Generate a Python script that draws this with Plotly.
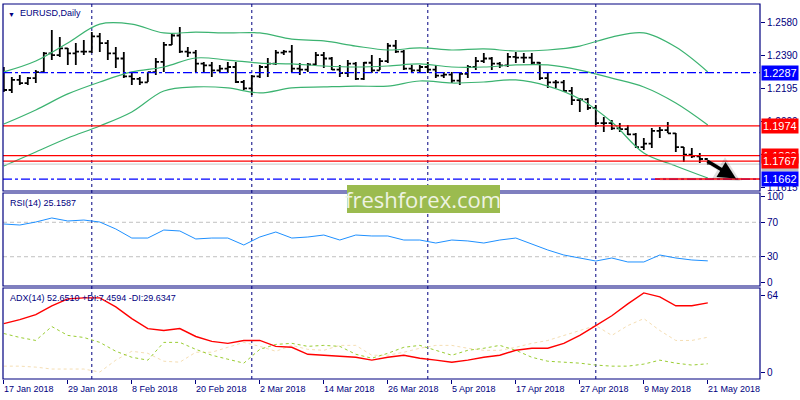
import pandas as pd
import plotly.graph_objects as go

# ---- data ----
dates = pd.bdate_range("2018-01-17", "2018-05-21").strftime("%Y-%m-%d").tolist()

high = [1.2320, 1.2261, 1.2273, 1.2261, 1.2302, 1.2408, 1.2537, 1.2496, 1.2432, 1.2461,
        1.2478, 1.2525, 1.2520, 1.2478, 1.2437, 1.2408, 1.2291, 1.2261, 1.2291, 1.2373,
        1.2467, 1.2520, 1.2555, 1.2437, 1.2420, 1.2349, 1.2349, 1.2332, 1.2349, 1.2349,
        1.2244, 1.2273, 1.2332, 1.2373, 1.2420, 1.2420, 1.2449, 1.2343, 1.2343, 1.2408,
        1.2408, 1.2379, 1.2332, 1.2361, 1.2349, 1.2349, 1.2390, 1.2373, 1.2461, 1.2478,
        1.2420, 1.2332, 1.2332, 1.2349, 1.2332, 1.2291, 1.2291, 1.2285, 1.2332, 1.2379,
        1.2402, 1.2379, 1.2349, 1.2402, 1.2408, 1.2402, 1.2402, 1.2349, 1.2291, 1.2244,
        1.2244, 1.2203, 1.2138, 1.2138, 1.2097, 1.2027, 1.2009, 1.1991, 1.1980, 1.1933,
        1.1903, 1.1962, 1.1968, 1.1997, 1.1933, 1.1850, 1.1845, 1.1815, 1.1774]
low = [1.2173, 1.2168, 1.2214, 1.2214, 1.2226, 1.2291, 1.2361, 1.2379, 1.2332, 1.2332,
       1.2390, 1.2402, 1.2408, 1.2361, 1.2314, 1.2255, 1.2214, 1.2214, 1.2232, 1.2273,
       1.2291, 1.2449, 1.2402, 1.2379, 1.2291, 1.2285, 1.2261, 1.2291, 1.2285, 1.2226,
       1.2185, 1.2156, 1.2255, 1.2261, 1.2332, 1.2390, 1.2291, 1.2273, 1.2291, 1.2332,
       1.2314, 1.2302, 1.2261, 1.2261, 1.2244, 1.2244, 1.2285, 1.2302, 1.2343, 1.2402,
       1.2302, 1.2285, 1.2291, 1.2285, 1.2255, 1.2255, 1.2226, 1.2214, 1.2255, 1.2302,
       1.2343, 1.2302, 1.2314, 1.2320, 1.2343, 1.2343, 1.2332, 1.2244, 1.2197, 1.2197,
       1.2173, 1.2097, 1.2056, 1.2068, 1.1980, 1.1939, 1.1950, 1.1939, 1.1921, 1.1845,
       1.1833, 1.1845, 1.1903, 1.1933, 1.1821, 1.1762, 1.1786, 1.1756, 1.1745]
close = [1.2185, 1.2244, 1.2225, 1.2255, 1.2290, 1.2400, 1.2390, 1.2430, 1.2400, 1.2410,
         1.2410, 1.2500, 1.2460, 1.2400, 1.2370, 1.2265, 1.2250, 1.2230, 1.2290, 1.2350,
         1.2450, 1.2505, 1.2410, 1.2405, 1.2340, 1.2330, 1.2300, 1.2310, 1.2320, 1.2232,
         1.2195, 1.2265, 1.2320, 1.2340, 1.2405, 1.2410, 1.2310, 1.2305, 1.2335, 1.2390,
         1.2370, 1.2305, 1.2285, 1.2340, 1.2250, 1.2345, 1.2300, 1.2355, 1.2445, 1.2410,
         1.2310, 1.2300, 1.2320, 1.2305, 1.2270, 1.2275, 1.2240, 1.2280, 1.2320, 1.2355,
         1.2370, 1.2340, 1.2330, 1.2380, 1.2375, 1.2375, 1.2345, 1.2255, 1.2230, 1.2230,
         1.2180, 1.2125, 1.2130, 1.2080, 1.1990, 1.1990, 1.1960, 1.1955, 1.1925, 1.1850,
         1.1870, 1.1945, 1.1950, 1.1930, 1.1850, 1.1805, 1.1795, 1.1780, 1.1750]
open_ = [1.2264] + close[:-1]

# Bollinger bands, sampled every 4th bar
band_dates = dates[::4]
bb_upper = [1.2291, 1.2355, 1.2461, 1.2572, 1.2572, 1.2520, 1.2525, 1.2520, 1.2520, 1.2484,
            1.2473, 1.2443, 1.2420, 1.2432, 1.2420, 1.2426, 1.2414, 1.2420, 1.2443, 1.2496,
            1.2520, 1.2437, 1.2291]
bb_middle = [1.1985, 1.2068, 1.2162, 1.2232, 1.2291, 1.2320, 1.2373, 1.2361, 1.2343, 1.2338,
             1.2326, 1.2320, 1.2326, 1.2338, 1.2320, 1.2320, 1.2332, 1.2332, 1.2302, 1.2255,
             1.2203, 1.2109, 1.1980]
bb_lower = [1.1739, 1.1821, 1.1903, 1.1974, 1.2056, 1.2179, 1.2203, 1.2197, 1.2168, 1.2197,
            1.2203, 1.2208, 1.2208, 1.2238, 1.2226, 1.2232, 1.2244, 1.2208, 1.2132, 1.1997,
            1.1815, 1.1739, 1.1668]

# oscillators, sampled every 2nd bar
osc_dates = dates[::2]
rsi = [68.0, 66.8, 70.3, 75.0, 71.5, 72.6, 70.3, 62.2, 51.7, 51.7,
       61.0, 59.9, 50.6, 51.7, 51.7, 43.6, 52.9, 58.7, 51.7, 52.9,
       55.2, 49.4, 55.2, 54.1, 54.1, 49.4, 49.4, 45.9, 49.4, 48.3,
       45.9, 49.4, 51.7, 44.8, 37.8, 32.0, 28.5, 25.0, 28.5, 23.9,
       23.9, 32.0, 28.5, 26.2, 25.2]
adx = [40.9, 44.2, 48.4, 55.8, 61.5, 62.4, 62.4, 54.9, 45.1, 36.8,
       35.2, 36.8, 30.2, 26.1, 24.5, 26.9, 26.9, 22.0, 21.2, 15.4,
       14.6, 13.8, 12.9, 10.5, 12.9, 14.6, 12.1, 10.5, 8.8, 10.5,
       12.9, 14.6, 18.7, 20.4, 20.4, 24.5, 31.1, 39.3, 47.5, 57.4,
       66.5, 63.2, 55.8, 55.8, 58.2]
plus_di = [32.7, 29.4, 26.9, 38.5, 31.1, 29.4, 25.3, 17.9, 12.9, 10.5,
           25.3, 25.3, 19.5, 14.6, 11.3, 8.0, 19.5, 23.6, 24.5, 22.0,
           22.8, 22.0, 15.4, 12.1, 16.2, 21.2, 22.8, 18.7, 14.6, 18.7,
           20.4, 22.8, 18.7, 12.9, 9.6, 8.8, 8.0, 6.4, 5.5, 5.5,
           7.2, 10.5, 8.0, 6.4, 7.5]
minus_di = [5.5, 5.5, 4.7, 3.1, 3.1, 3.1, 0.6, 10.5, 17.9, 16.2,
            9.6, 8.8, 17.1, 17.1, 21.2, 25.3, 22.0, 17.9, 22.8, 19.5,
            18.7, 22.8, 22.8, 14.6, 14.6, 17.1, 20.4, 22.8, 22.8, 20.4,
            18.7, 18.7, 21.2, 24.5, 26.9, 31.1, 35.2, 39.3, 31.1, 39.3,
            45.1, 35.2, 26.9, 26.9, 29.6]

tick_dates = dates[::8]
tick_labels = ["17 Jan 2018", "29 Jan 2018", "8 Feb 2018", "20 Feb 2018", "2 Mar 2018",
               "14 Mar 2018", "26 Mar 2018", "5 Apr 2018", "17 Apr 2018", "27 Apr 2018",
               "9 May 2018", "21 May 2018"]
separator_dates = ["2018-02-01", "2018-03-01", "2018-04-02", "2018-05-01"]
price_ticks = [1.2580, 1.2390, 1.2195, 1.2000, 1.1805, 1.1615]

level_blue = 1.2287
levels_red = [1.1974, 1.1800, 1.1767]
level_target = 1.1662
last_price = close[-1]

NAVY = "#000080"
FONT = "Liberation Sans"

fig = go.Figure()

# price panel
for band in [bb_upper, bb_middle, bb_lower]:
    fig.add_trace(go.Scatter(x=band_dates, y=band, mode="lines",
                             line=dict(color="#3CB371", width=1.2, shape="spline"),
                             xaxis="x", yaxis="y"))
fig.add_trace(go.Ohlc(x=dates, open=open_, high=high, low=low, close=close,
                      increasing_line_color="black", decreasing_line_color="black",
                      line_width=1.8, tickwidth=0.4, xaxis="x", yaxis="y"))

# RSI panel
fig.add_trace(go.Scatter(x=osc_dates, y=rsi, mode="lines",
                         line=dict(color="#1E90FF", width=1), xaxis="x", yaxis="y2"))

# ADX panel
fig.add_trace(go.Scatter(x=osc_dates, y=minus_di, mode="lines",
                         line=dict(color="#F5DEB3", width=1, dash="3px,3px"),
                         xaxis="x", yaxis="y3"))
fig.add_trace(go.Scatter(x=osc_dates, y=plus_di, mode="lines",
                         line=dict(color="#9ACD32", width=1, dash="3px,3px"),
                         xaxis="x", yaxis="y3"))
fig.add_trace(go.Scatter(x=osc_dates, y=adx, mode="lines",
                         line=dict(color="#FF0000", width=1.4), xaxis="x", yaxis="y3"))

# panel layout in pixels: plot area 4..379 tall
def dom(top, bottom):
    return [(379 - bottom) / 375, (379 - top) / 375]

axis_font = dict(family=FONT, size=10, color=NAVY)
text_font = dict(family=FONT, size=9, color=NAVY)

fig.update_layout(
    width=800, height=400,
    margin=dict(l=3, r=40, t=4, b=21, autoexpand=False),
    paper_bgcolor="white", plot_bgcolor="white",
    showlegend=False,
    xaxis=dict(type="category", categoryorder="array", categoryarray=dates,
               range=[-0.1, 94.525], anchor="y3",
               showgrid=False, zeroline=False, showline=False,
               tickmode="array", tickvals=tick_dates, ticks="outside", ticklen=4,
               tickcolor=NAVY, showticklabels=False, rangeslider=dict(visible=False)),
    yaxis=dict(domain=dom(4, 191), range=[1.1592, 1.2690], side="right", anchor="x",
               showgrid=False, zeroline=False, tickmode="array", tickvals=price_ticks,
               ticktext=["%.4f" % t for t in price_ticks], ticks="outside", ticklen=4,
               tickcolor=NAVY, tickfont=axis_font),
    yaxis2=dict(domain=dom(193, 286), range=[-4, 104], side="right", anchor="x",
                showgrid=False, zeroline=False, tickmode="array", tickvals=[100, 70, 30, 0],
                ticks="outside", ticklen=4, tickcolor=NAVY, tickfont=axis_font),
    yaxis3=dict(domain=dom(288, 379), range=[-5.2, 70.6], side="right", anchor="x",
                showgrid=False, zeroline=False, tickmode="array", tickvals=[64, 0],
                ticks="outside", ticklen=4, tickcolor=NAVY, tickfont=axis_font),
)

shapes = []
# RSI levels
for lvl in [70, 30]:
    shapes.append(dict(type="line", xref="paper", yref="y2", x0=0, x1=1, y0=lvl, y1=lvl,
                       line=dict(color="#C0C0C0", width=1, dash="4px,3px"), layer="below"))
# period separators
for d in separator_dates:
    shapes.append(dict(type="line", xref="x", yref="paper", x0=d, x1=d, y0=0, y1=1,
                       line=dict(color=NAVY, width=1, dash="3px,3px"), layer="below"))
# horizontal levels
shapes.append(dict(type="line", xref="paper", yref="y", x0=0, x1=1, y0=level_blue, y1=level_blue,
                   line=dict(color="#0000FF", width=1.3, dash="dashdot")))
shapes.append(dict(type="line", xref="paper", yref="y", x0=0, x1=1, y0=last_price, y1=last_price,
                   line=dict(color="#C8C8C8", width=1)))
for lvl in levels_red:
    shapes.append(dict(type="line", xref="paper", yref="y", x0=0, x1=1, y0=lvl, y1=lvl,
                       line=dict(color="#FF0000", width=1.3)))
shapes.append(dict(type="line", xref="paper", yref="y", x0=0, x1=1, y0=level_target, y1=level_target,
                   line=dict(color="#0000FF", width=1.3, dash="dashdot")))
# soft shadow band under the forecast arrow
shapes.append(dict(type="rect", xref="paper", yref="y", x0=(660 - 3) / 757, x1=(742 - 3) / 757,
                   y0=1.1652, y1=1.1672, fillcolor="rgba(0,0,0,0.07)", line=dict(width=0)))
shapes.append(dict(type="line", xref="paper", yref="y", x0=(655 - 3) / 757, x1=1,
                   y0=level_target, y1=level_target, line=dict(color="#FF0000", width=1.5)))
# panel frames
for top, bottom in [(4, 191), (193, 286), (288, 379)]:
    d = dom(top, bottom)
    shapes.append(dict(type="rect", xref="paper", yref="paper", x0=0, x1=1, y0=d[0], y1=d[1],
                       line=dict(color=NAVY, width=1.2)))
# logo box
shapes.append(dict(type="rect", xref="paper", yref="paper",
                   x0=(347 - 3) / 757, x1=(500 - 3) / 757,
                   y0=(400 - 213 - 21) / 375, y1=(400 - 185 - 21) / 375,
                   fillcolor="#9BBB4F", line=dict(width=0)))
fig.update_layout(shapes=shapes)

ann = []
# date labels, left-aligned at the tick like the terminal does
for d, t in zip(tick_dates, tick_labels):
    ann.append(dict(x=d, xref="x", y=-0.008, yref="paper", text=t, showarrow=False,
                    xanchor="left", yanchor="top", xshift=-2, font=text_font))
# price level tags
tags = [(last_price, "#C0C0C0"), (level_blue, "#0000FF"), (levels_red[0], "#FF0000"),
        (levels_red[1], "#FF0000"), (levels_red[2], "#FF0000"), (level_target, "#0000FF")]
for val, col in tags:
    ann.append(dict(x=1, xref="paper", y=val, yref="y", text="%.4f" % val, showarrow=False,
                    xanchor="left", yanchor="middle", xshift=1, bgcolor=col, borderpad=1,
                    font=dict(family=FONT, size=11, color="white")))
# panel titles
ann.append(dict(x=0.004, xref="paper", y=1, yref="paper", text="▼", showarrow=False,
                xanchor="left", yanchor="top", yshift=-5, font=dict(family=FONT, size=7, color=NAVY)))
ann.append(dict(x=0.02, xref="paper", y=1, yref="paper", text="EURUSD,Daily", showarrow=False,
                xanchor="left", yanchor="top", yshift=-2, font=text_font))
ann.append(dict(x=0.006, xref="paper", y=dom(193, 286)[1], yref="paper", text="RSI(14) 25.1587",
                showarrow=False, xanchor="left", yanchor="top", yshift=-3, font=text_font))
ann.append(dict(x=0.006, xref="paper", y=dom(288, 379)[1], yref="paper",
                text="ADX(14) 52.6510 +DI:7.4594 -DI:29.6347",
                showarrow=False, xanchor="left", yanchor="top", yshift=-3, font=text_font))
# logo text
ann.append(dict(x=(423 - 3) / 757, xref="paper", y=(400 - 199 - 21) / 375, yref="paper",
                text="freshforex.com", showarrow=False, xanchor="center", yanchor="middle",
                font=dict(family="Open Sans", size=22, color="#EEF3E2")))
# forecast arrow with a soft shadow
ann.append(dict(x=(740 - 3) / 757, xref="paper", y=1.1652, yref="y", ax=-30, ay=-18,
                text="", showarrow=True, arrowhead=2, arrowsize=1.0, arrowwidth=5,
                arrowcolor="rgba(0,0,0,0.12)"))
ann.append(dict(x=(736 - 3) / 757, xref="paper", y=1.1666, yref="y", ax=-30, ay=-18,
                text="", showarrow=True, arrowhead=2, arrowsize=1.0, arrowwidth=3.5,
                arrowcolor="black"))
fig.update_layout(annotations=ann)

fig.write_html("out.html", config={"displayModeBar": False},
               post_script="document.body.style.margin='0px';")
